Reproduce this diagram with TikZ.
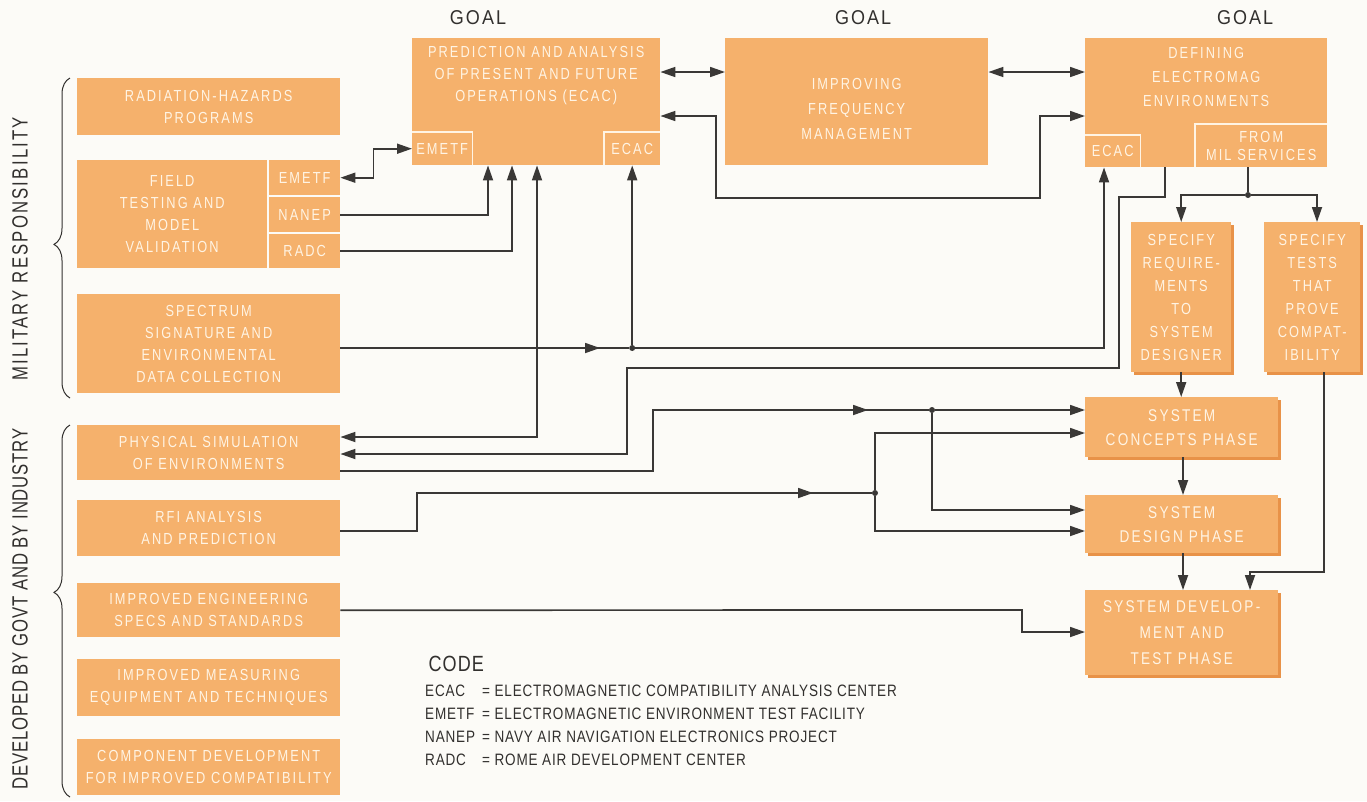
\documentclass[tikz,border=0pt]{standalone}
\usepackage{fontspec}
\setmainfont{Liberation Sans}
\newfontfamily\boxfont[FakeStretch=0.8,LetterSpace=13]{Liberation Sans}
\newfontfamily\codefont[FakeStretch=0.82,LetterSpace=5]{Liberation Sans}
\newfontfamily\headfont[FakeStretch=0.9,LetterSpace=10]{Liberation Sans}
\newfontfamily\sidefont[FakeStretch=0.76,LetterSpace=4]{Liberation Sans}
\newfontfamily\sidewide[FakeStretch=0.76,LetterSpace=10]{Liberation Sans}
\usetikzlibrary{arrows.meta, positioning, decorations.pathreplacing, calc, shadows}
\definecolor{boxorange}{RGB}{245,177,108}
\definecolor{boxshade}{RGB}{232,146,72}
\definecolor{boxtext}{RGB}{255,244,228}
\definecolor{wire}{RGB}{58,56,54}
\definecolor{paper}{RGB}{252,251,247}
\definecolor{ink}{RGB}{50,48,46}

\begin{document}
\begin{tikzpicture}[x=1pt,y=-1pt,>={Triangle[length=15pt,width=10pt]},
  blk/.style={fill=boxorange,text=boxtext,align=center,anchor=north west,inner sep=0pt,
    font=\boxfont\fontsize{16}{22}\selectfont},
  shblk/.style={blk,general shadow={fill=boxshade,shadow xshift=3pt,shadow yshift=-3pt}},
  wh/.style 2 args={minimum width=#1pt,minimum height=#2pt},
  tab/.style={text=boxtext,anchor=north west,inner sep=0pt,align=center,
    font=\boxfont\fontsize{16}{18}\selectfont},
  tabline/.style={draw=boxtext,line width=1.4pt},
  conn/.style={draw=wire,line width=1.7pt},
  dot/.style={circle,fill=wire,inner sep=0pt,minimum size=6pt},
  goal/.style={text=ink,font=\headfont\fontsize{20}{22}\selectfont},
  side/.style={text=ink,rotate=90,font=\sidefont\fontsize{22}{24}\selectfont},
  brc/.style={draw=ink,line width=1pt,decorate,decoration={brace,amplitude=16pt,aspect=#1}}]

  \useasboundingbox (0,0) rectangle (1367,801);
  \fill[paper] (0,0) rectangle (1367,801);

  % left column
  \node[side,font=\sidewide\fontsize{22}{24}\selectfont] (milresp) at (20,249) {MILITARY RESPONSIBILITY};
  \node[side] (govtind) at (20,609) {DEVELOPED BY GOVT AND BY INDUSTRY};
  \draw[brc=0.48] (70,398) -- (70,78);
  \draw[brc=0.55] (70,797) -- (70,425);

  \node[blk,wh={263}{57}] (radhaz) at (77,78) {RADIATION-HAZARDS\\PROGRAMS};
  \node[blk,wh={190}{108}] (field) at (77,160) {FIELD\\TESTING AND\\MODEL\\VALIDATION};
  \node[blk,wh={71}{35}] (emetfF) at (269,160) {EMETF};
  \node[blk,wh={71}{35}] (nanepF) at (269,197) {NANEP};
  \node[blk,wh={71}{34}] (radcF) at (269,234) {RADC};
  \node[blk,wh={263}{99}] (spectrum) at (77,294)
    {SPECTRUM\\SIGNATURE AND\\ENVIRONMENTAL\\DATA COLLECTION};
  \node[blk,wh={263}{55}] (physsim) at (77,425) {PHYSICAL SIMULATION\\OF ENVIRONMENTS};
  \node[blk,wh={263}{56}] (rfi) at (77,500) {RFI ANALYSIS\\AND PREDICTION};
  \node[blk,wh={263}{54}] (engspec) at (77,583) {IMPROVED ENGINEERING\\SPECS AND STANDARDS};
  \node[blk,wh={263}{57}] (measeq) at (77,659) {IMPROVED MEASURING\\EQUIPMENT AND TECHNIQUES};
  \node[blk,wh={263}{56}] (compdev) at (77,739) {COMPONENT DEVELOPMENT\\FOR IMPROVED COMPATIBILITY};

  % goals
  \node[goal] (goal1) at (478,18) {GOAL};
  \node[goal] (goal2) at (863,18) {GOAL};
  \node[goal] (goal3) at (1245,18) {GOAL};

  \node[blk,wh={248}{127},
    label={[blk,fill=none,anchor=north,yshift=-8pt]north:{PREDICTION AND ANALYSIS\\OF PRESENT AND FUTURE\\OPERATIONS (ECAC)}}]
    (predict) at (412,38) {};
  \node[tab,wh={60}{33}] (emetfP) at (412,132) {EMETF};
  \node[tab,wh={56}{33}] (ecacP) at (604,132) {ECAC};
  \draw[tabline] (emetfP.south east) -- (emetfP.north east) -- (emetfP.north west);
  \draw[tabline] (ecacP.south west) -- (ecacP.north west) -- (ecacP.north east);

  \node[blk,wh={263}{127},font=\boxfont\fontsize{16}{25}\selectfont] (freqmgmt) at (725,38)
    {\\IMPROVING\\FREQUENCY\\MANAGEMENT};

  \node[blk,wh={242}{129},
    label={[blk,fill=none,anchor=north,yshift=-9pt,font=\boxfont\fontsize{16}{24}\selectfont]north:{DEFINING\\ELECTROMAG\\ENVIRONMENTS}}]
    (defenv) at (1085,38) {};
  \node[tab,wh={55}{32}] (ecacD) at (1085,135) {ECAC};
  \node[tab,wh={132}{43}] (milserv) at (1195,124) {FROM\\MIL SERVICES};
  \draw[tabline] (ecacD.south east) -- (ecacD.north east) -- (ecacD.north west);
  \draw[tabline] (milserv.south west) -- (milserv.north west) -- (milserv.north east);

  % right column
  \node[shblk,wh={100}{150},font=\boxfont\fontsize{16}{23}\selectfont] (specreq) at (1131,222)
    {SPECIFY\\REQUIRE-\\MENTS\\TO\\SYSTEM\\DESIGNER};
  \node[shblk,wh={96}{150},font=\boxfont\fontsize{16}{23}\selectfont] (spectest) at (1264,222)
    {SPECIFY\\TESTS\\THAT\\PROVE\\COMPAT-\\IBILITY};
  \node[shblk,wh={193}{60},font=\boxfont\fontsize{17}{24}\selectfont] (concept) at (1085,397)
    {SYSTEM\\CONCEPTS PHASE};
  \node[shblk,wh={193}{58},font=\boxfont\fontsize{17}{24}\selectfont] (design) at (1085,495)
    {SYSTEM\\DESIGN PHASE};
  \node[shblk,wh={193}{85},font=\boxfont\fontsize{17}{26}\selectfont] (develop) at (1085,590)
    {SYSTEM DEVELOP-\\MENT AND\\TEST PHASE};

  % connectors
  \draw[conn,<->] (predict.east |- 0,72) -- (freqmgmt.west |- 0,72);
  \draw[conn,<->] (freqmgmt.east |- 0,72) -- (defenv.west |- 0,72);
  \draw[conn,<->] (predict.east |- 0,116) -| (716,198) -| (1040,116) -- (defenv.west |- 0,116);

  \draw[conn,<->] (emetfF.east) -- ++(33,0) |- (emetfP.west);
  \draw[conn,->] (nanepF.east) -| (predict.south -| 488,0);
  \draw[conn,->] (radcF.east) -| (predict.south -| 512,0);
  \draw[conn,<->] (physsim.east |- 0,437) -| (predict.south -| 537,0);

  \node[dot] (j1) at (ecacP.south |- 0,348) {};
  \draw[conn,->] (spectrum.east |- 0,348) -- (600,348);
  \draw[conn] (592,348) -- (j1);
  \draw[conn,->] (j1) -- (ecacP.south);
  \draw[conn,->] (j1) -| (ecacD.south -| 1104,0);

  \draw[conn,->] (defenv.south -| 1165,0) -- (1165,197) -- (1119,197) -- (1119,368)
    -- (627,368) -- (627,454) -- (physsim.east |- 0,454);

  \node[dot] (j2) at (932,410) {};
  \draw[conn,->] (physsim.east |- 0,471) -- (653,471) -- (653,410) -- (868,410);
  \draw[conn] (860,410) -- (j2);
  \draw[conn,->] (j2) -- (concept.west |- j2);
  \draw[conn,->] (j2) |- (design.west |- 0,510);

  \node[dot] (j3) at (875,493) {};
  \draw[conn,->] (rfi.east |- 0,531) -- (417,531) -- (417,493) -- (813,493);
  \draw[conn] (805,493) -- (j3);
  \draw[conn,->] (j3) |- (concept.west |- 0,433);
  \draw[conn,->] (j3) |- (design.west |- 0,531);

  \draw[conn,->] (engspec.east) -- (1022,610) |- (develop.west |- 0,632);

  \node[dot] (j4) at (1248,195) {};
  \draw[conn] (milserv.south -| 1248,0) -- (j4);
  \draw[conn,->] (j4) -| (specreq.north);
  \draw[conn,->] (j4) -| (spectest.north -| 1317,0);
  \draw[conn,->] (specreq.south) -- (concept.north -| specreq.south);
  \draw[conn,->] (concept.south -| 1183,0) -- (design.north -| 1183,0);
  \draw[conn,->] (design.south -| 1183,0) -- (develop.north -| 1183,0);
  \draw[conn,->] (spectest.south -| 1324,0) -- (1324,572) -| (develop.north -| 1250,0);

  % code
  \node[anchor=west,text=ink,font=\codefont\fontsize{22}{24}\selectfont] (codehead) at (425,664) {CODE};
  \node[below=5pt of codehead.south west,anchor=north west,inner sep=0pt,text=ink,
    font=\codefont\fontsize{16.5}{23}\selectfont] (codelist)
    {\begin{tabular}{@{}l@{\hspace{7pt}}l@{}}
      ECAC  & = ELECTROMAGNETIC COMPATIBILITY ANALYSIS CENTER\\
      EMETF & = ELECTROMAGNETIC ENVIRONMENT TEST FACILITY\\
      NANEP & = NAVY AIR NAVIGATION ELECTRONICS PROJECT\\
      RADC  & = ROME AIR DEVELOPMENT CENTER
    \end{tabular}};
\end{tikzpicture}
\end{document}
